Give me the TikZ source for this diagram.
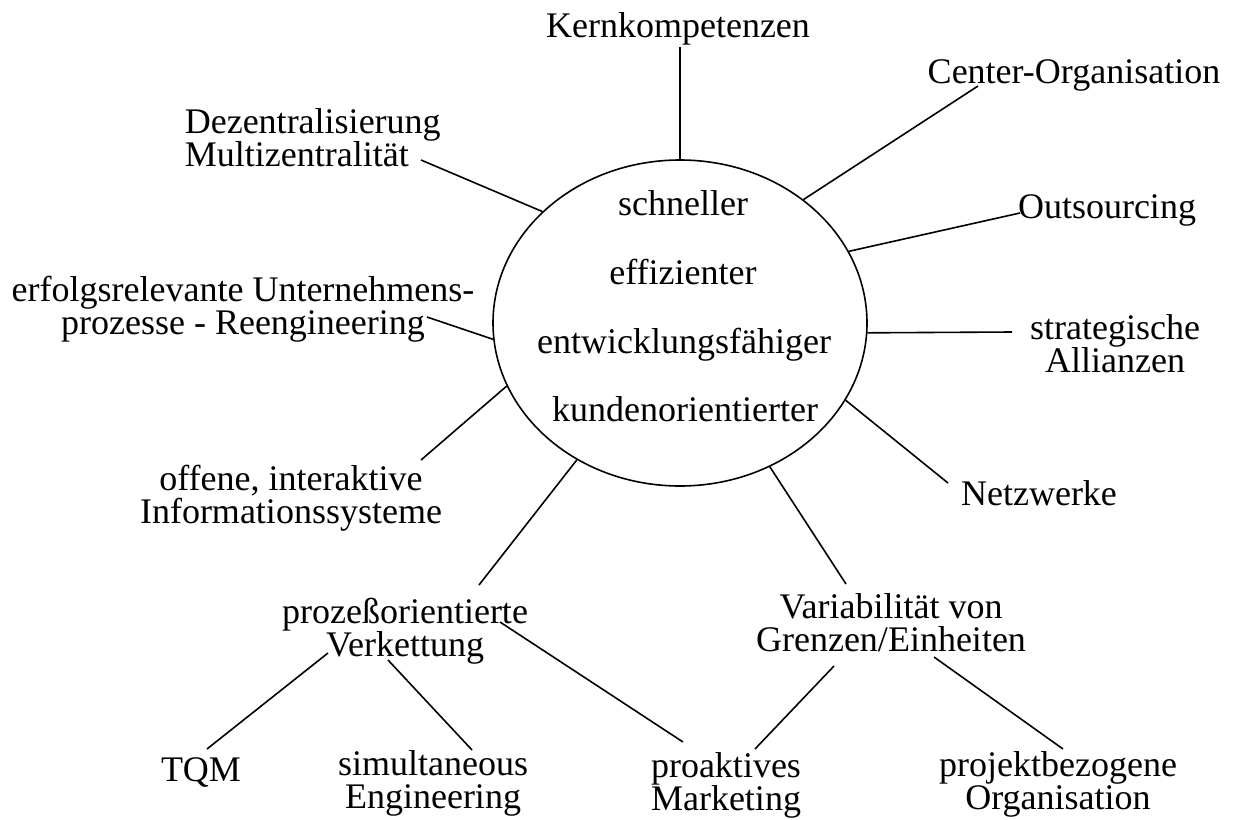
\documentclass[tikz,border=0pt]{standalone}
\usepackage{fontspec}
\setmainfont{Liberation Serif}
\usetikzlibrary{shapes.geometric}
\begin{document}
\begin{tikzpicture}[x=0.5pt,y=-0.5pt,line width=0.8pt,
  lbl/.style={font=\fontsize{18}{16.5}\selectfont,inner sep=1pt,anchor=base,align=center},
  hub/.style={draw,ellipse,inner sep=0pt,minimum width=187pt,minimum height=163pt}]
\useasboundingbox (0,0) rectangle (1233,820);
\node[hub] (ell) at (680,323) {};
\node[lbl] (schn) at (683,215) {schneller};
\node[lbl] (eff) at (683,284) {effizienter};
\node[lbl] (entw) at (684,353) {entwicklungsfähiger};
\node[lbl] (kund) at (685,421) {kundenorientierter};
% rund um den Kreis
\node[lbl] (kern) at (678,37) {Kernkompetenzen};
\node[lbl] (co) at (1074,83) {Center-Organisation};
\node[lbl] (out) at (1107,218) {Outsourcing};
\node[lbl] (strat) at (1115,372) {strategische\\Allianzen};
\node[lbl] (netz) at (1039,505) {Netzwerke};
\node[lbl] (var) at (891,651) {Variabilität von\\Grenzen/Einheiten};
\node[lbl] (proz) at (405,656) {prozeßorientierte\\Verkettung};
\node[lbl] (off) at (291,523) {offene, interaktive\\Informationssysteme};
\node[lbl] (erf) at (243,334) {erfolgsrelevante Unternehmens-\\prozesse - Reengineering};
\node[lbl,anchor=base west,align=left] (dez) at (182,166) {Dezentralisierung\\Multizentralität};
% untere Reihe
\node[lbl] (tqm) at (201,781) {TQM};
\node[lbl] (sim) at (433,808) {simultaneous\\Engineering};
\node[lbl] (proa) at (726,810) {proaktives\\Marketing};
\node[lbl] (proj) at (1058,809) {projektbezogene\\Organisation};
\draw (ell.north) -- (ell.north |- kern.south);
\draw (ell.45.5) -- ([shift={(-96,3)}]co.base);
\draw (ell.23.4) -- ([shift={(-87,-5)}]out.base);
\draw (ell.-3) -- ([shift={(-103,-40)}]strat.base);
\draw (ell.-25.9) -- ([shift={(-91,-22)}]netz.base);
\draw (ell.-58.7) -- ([shift={(-45,-67)}]var.base);
\draw (ell.233.7) -- ([shift={(74,-71)}]proz.base);
\draw (ell.200.7) -- ([shift={(130,-63)}]off.base);
\draw (ell.185.6) -- ([shift={(184,-17)}]erf.base);
\draw (ell.141.4) -- ([shift={(239,-6)}]dez.base west);
\draw ([shift={(-77,-3)}]proz.base) -- ([shift={(6,-32)}]tqm.base);
\draw ([shift={(-17,4)}]proz.base) -- ([shift={(39,-58)}]sim.base);
\draw ([shift={(95,-34)}]proz.base) -- ([shift={(-43,-68)}]proa.base);
\draw ([shift={(-57,15)}]var.base) -- ([shift={(29,-61)}]proa.base);
\draw ([shift={(43,6)}]var.base) -- ([shift={(5,-60)}]proj.base);
\end{tikzpicture}
\end{document}
